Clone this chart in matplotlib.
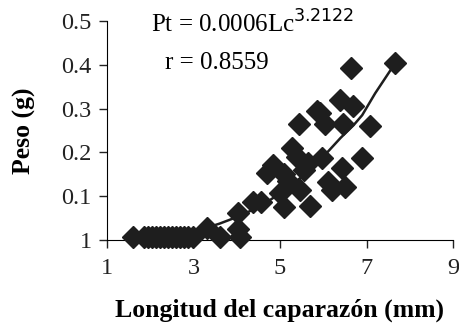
import numpy as np
import matplotlib.pyplot as plt

plt.rcParams['font.family'] = ['Liberation Serif', 'DejaVu Serif']

# observed points: carapace length (mm) vs weight (g)
lc_obs = [1.60, 1.85, 1.95, 2.04, 2.13, 2.22, 2.31, 2.40, 2.50, 2.60, 2.69, 2.78, 2.88, 2.99,
          3.31, 3.62, 4.03, 4.08, 4.03, 4.38, 4.55, 4.70, 4.84, 5.00, 5.10, 5.10, 5.19,
          5.28, 5.40, 5.45, 5.47, 5.55, 5.65, 5.70, 5.86, 5.93, 5.98, 6.05, 6.12, 6.20,
          6.39, 6.44, 6.46, 6.51, 6.63, 6.69, 6.90, 7.09, 7.67]
pt_obs = [0.007, 0.007, 0.007, 0.007, 0.007, 0.007, 0.007, 0.007, 0.007, 0.007, 0.007, 0.007, 0.007, 0.007,
          0.027, 0.007, 0.025, 0.006, 0.062, 0.087, 0.086, 0.153, 0.171, 0.107, 0.150, 0.075, 0.135,
          0.210, 0.190, 0.265, 0.114, 0.160, 0.175, 0.078, 0.295, 0.290, 0.187, 0.265, 0.132, 0.115,
          0.320, 0.164, 0.265, 0.121, 0.393, 0.305, 0.187, 0.260, 0.405]

# fitted curve
lc_fit = [3.31, 3.6, 4.0, 4.4, 4.8, 5.2, 5.6, 6.0, 6.4, 6.7, 6.9, 7.2, 7.67]
pt_fit = [0.028, 0.037, 0.052, 0.070, 0.093, 0.120, 0.152, 0.190, 0.233, 0.262, 0.285, 0.335, 0.405]

xticks = [1, 3, 5, 7, 9]
yticks = [0, 0.1, 0.2, 0.3, 0.4, 0.5]
ytick_labels = ['1', '0.1', '0.2', '0.3', '0.4', '0.5']

fig = plt.figure(figsize=(4.59, 3.35), dpi=100)
ax = fig.add_axes([0.233, 0.284, 0.754, 0.653])

ax.plot(lc_obs, pt_obs, 'D', color='#1e1e1e', markersize=11, clip_on=False, zorder=3)
ax.plot(lc_fit, pt_fit, '-', color='#1e1e1e', lw=1.8, zorder=4)

ax.set_xlim(1, 9)
ax.set_ylim(0, 0.5)
ax.set_xticks(xticks)
ax.set_yticks(yticks)
ax.set_yticklabels(ytick_labels)
ax.tick_params(labelsize=17.5, length=6, width=1, direction='out', colors='#222222')
ax.tick_params(axis='x', pad=7)
ax.tick_params(axis='y', pad=5)
ax.spines['top'].set_visible(False)
ax.spines['right'].set_visible(False)

ax.set_xlabel('Longitud del caparazón (mm)', fontsize=18.5, fontweight='bold', labelpad=14)
ax.set_ylabel('Peso (g)', fontsize=18.5, fontweight='bold', labelpad=18)

ax.text(0.127, 0.985, r'Pt = 0.0006Lc$^{3.2122}$', transform=ax.transAxes, fontsize=18,
        va='center', ha='left')
ax.text(0.168, 0.81, 'r = 0.8559', transform=ax.transAxes, fontsize=18, va='center', ha='left')

fig.savefig('out.png', dpi=100)
